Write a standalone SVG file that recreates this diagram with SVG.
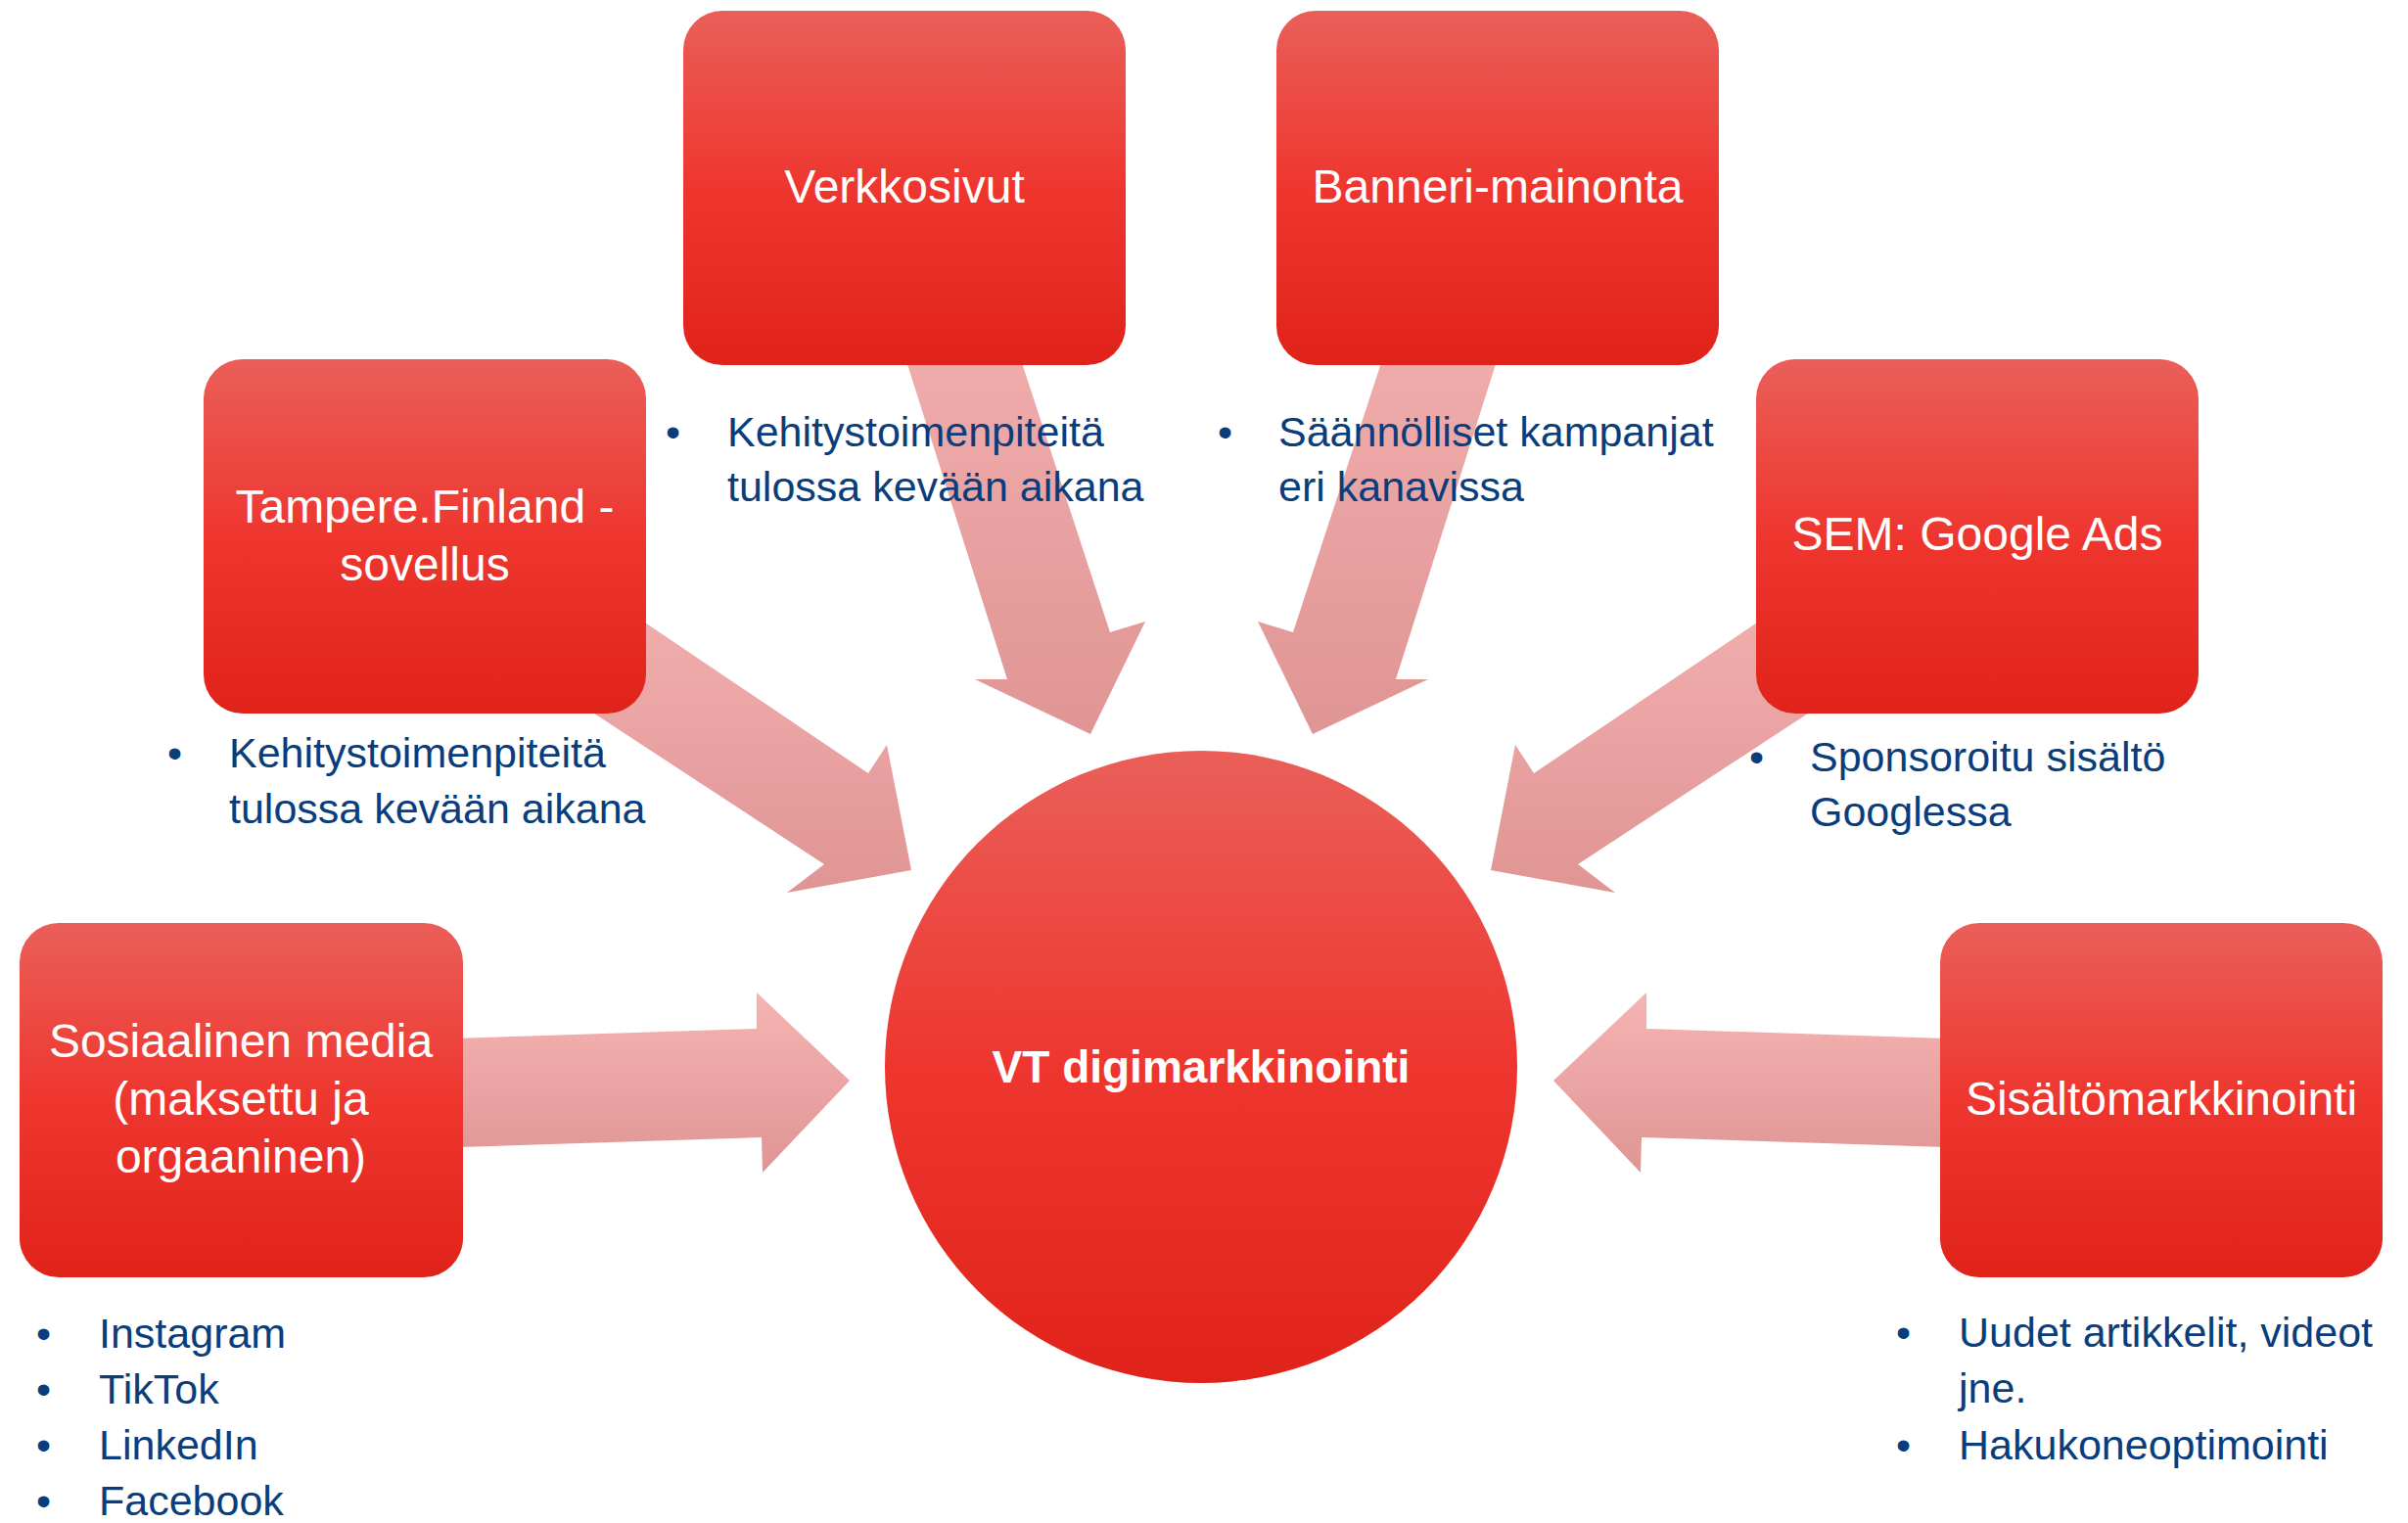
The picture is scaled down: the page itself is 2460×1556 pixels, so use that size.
<svg xmlns="http://www.w3.org/2000/svg" width="2460" height="1556" viewBox="0 0 2460 1556">
<defs>
<linearGradient id="gRed" x1="0" y1="0" x2="0" y2="1">
<stop offset="0" stop-color="#EA5F59"/>
<stop offset="0.5" stop-color="#EE362F"/>
<stop offset="1" stop-color="#E0231A"/>
</linearGradient>
<linearGradient id="gArrow" x1="0" y1="0" x2="0" y2="1">
<stop offset="0" stop-color="#F5B4B3"/>
<stop offset="1" stop-color="#DF9594"/>
</linearGradient>
<style>
.box{fill:url(#gRed);}
.arrow{fill:url(#gArrow);}
.lbl{font-family:"Liberation Sans",Arial,sans-serif;font-size:48px;fill:#FFFFFF;text-anchor:middle;}
.ctr{font-family:"Liberation Sans",Arial,sans-serif;font-size:46px;font-weight:bold;fill:#FFFFFF;text-anchor:middle;}
.bl{font-family:"Liberation Sans",Arial,sans-serif;font-size:43px;fill:#0A3D7C;}
</style>
</defs>
<rect x="0" y="0" width="2460" height="1556" fill="#FFFFFF"/>

<g id="connectors">
<polygon class="arrow" points="250,1068 773,1051 773,1014 868,1104 779,1198 778,1162 250,1179"/>
<polygon class="arrow" points="2205,1068 1682,1051 1682,1014 1587,1104 1676,1198 1677,1162 2205,1179"/>
<polygon class="arrow" points="536,553 887,790 906,761 931,889 804,912 842,883 479,645"/>
<polygon class="arrow" points="1918,553 1567,790 1548,761 1523,889 1650,912 1612,883 1975,645"/>
<polygon class="arrow" points="882,230 1029,694 996,694 1114,750 1170,635 1134,646 998,230"/>
<polygon class="arrow" points="1573,230 1426,694 1459,694 1341,750 1285,635 1321,646 1457,230"/>
</g>

<g id="node-center">
<circle class="box" cx="1227" cy="1090" r="323"/>
<text class="ctr" x="1227" y="1106">VT digimarkkinointi</text>
</g>

<g id="node-verkkosivut">
<rect class="box" x="698" y="11" width="452" height="362" rx="40" ry="40"/>
<text class="lbl" x="924" y="207">Verkkosivut</text>
<text class="bl" x="680" y="456">•</text>
<text class="bl" x="743" y="456">Kehitystoimenpiteitä</text>
<text class="bl" x="743" y="512">tulossa kevään aikana</text>
</g>

<g id="node-banneri">
<rect class="box" x="1304" y="11" width="452" height="362" rx="40" ry="40"/>
<text class="lbl" x="1530" y="207">Banneri-mainonta</text>
<text class="bl" x="1244" y="456">•</text>
<text class="bl" x="1306" y="456">Säännölliset kampanjat</text>
<text class="bl" x="1306" y="512">eri kanavissa</text>
</g>

<g id="node-tampere">
<rect class="box" x="208" y="367" width="452" height="362" rx="40" ry="40"/>
<text class="lbl" x="434" y="534">Tampere.Finland -</text>
<text class="lbl" x="434" y="593">sovellus</text>
<text class="bl" x="171" y="784">•</text>
<text class="bl" x="234" y="784">Kehitystoimenpiteitä</text>
<text class="bl" x="234" y="841">tulossa kevään aikana</text>
</g>

<g id="node-sem">
<rect class="box" x="1794" y="367" width="452" height="362" rx="40" ry="40"/>
<text class="lbl" x="2020" y="562">SEM: Google Ads</text>
<text class="bl" x="1787" y="788">•</text>
<text class="bl" x="1849" y="788">Sponsoroitu sisältö</text>
<text class="bl" x="1849" y="844">Googlessa</text>
</g>

<g id="node-some">
<rect class="box" x="20" y="943" width="453" height="362" rx="40" ry="40"/>
<text class="lbl" x="246" y="1080">Sosiaalinen media</text>
<text class="lbl" x="246" y="1139">(maksettu ja</text>
<text class="lbl" x="246" y="1198">orgaaninen)</text>
<text class="bl" x="37" y="1377">•</text>
<text class="bl" x="101" y="1377">Instagram</text>
<text class="bl" x="37" y="1434">•</text>
<text class="bl" x="101" y="1434">TikTok</text>
<text class="bl" x="37" y="1491">•</text>
<text class="bl" x="101" y="1491">LinkedIn</text>
<text class="bl" x="37" y="1548">•</text>
<text class="bl" x="101" y="1548">Facebook</text>
</g>

<g id="node-sisalto">
<rect class="box" x="1982" y="943" width="452" height="362" rx="40" ry="40"/>
<text class="lbl" x="2208" y="1139">Sisältömarkkinointi</text>
<text class="bl" x="1937" y="1376">•</text>
<text class="bl" x="2001" y="1376">Uudet artikkelit, videot</text>
<text class="bl" x="2001" y="1433">jne.</text>
<text class="bl" x="1937" y="1491">•</text>
<text class="bl" x="2001" y="1491">Hakukoneoptimointi</text>
</g>
</svg>
